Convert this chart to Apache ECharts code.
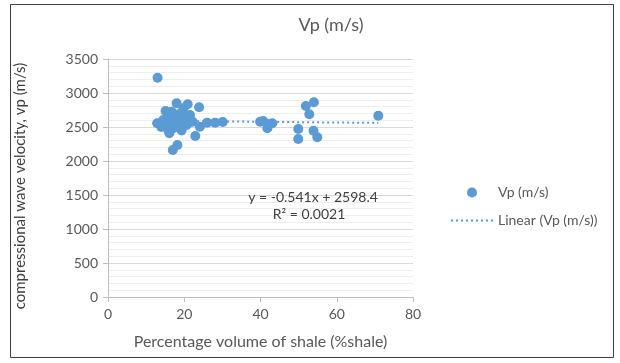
<!DOCTYPE html>
<html>
<head>
<meta charset="utf-8">
<script src="https://cdn.jsdelivr.net/npm/echarts@6/dist/echarts.min.js"></script>
<style>html,body{margin:0;padding:0;background:#fff;}#c{width:620px;height:363px;}</style>
</head>
<body>
<div id="c"></div>
<script>
var shalePct = [13.0,17.0,18.2,22.9,23.9,22.2,24.1,26.0,28.1,30.1,12.9,
  18.0,20.9,15.1,16.7,19.8,21.5,14.5,16.3,18.0,19.8,18.9,17.1,15.8,15.0,16.1,20.6,17.6,19.0,16.0,17.5,18.5,20.0,14.0,21.0,19.3,
  39.9,40.7,41.8,42.0,43.1,49.9,49.9,51.9,54.0,52.8,53.9,54.9,70.9];
var vpValues = [3225,2162,2235,2368,2790,2578,2504,2564,2564,2574,2555,
  2848,2834,2735,2725,2775,2676,2603,2603,2628,2603,2505,2481,2456,2530,2407,2530,2680,2700,2660,2560,2580,2650,2500,2560,2450,
  2578,2588,2481,2544,2554,2471,2324,2809,2863,2687,2446,2348,2666];
var trendSlope = [-0.541];
var trendIntercept = [2598.4];
var xTicks = [0,20,40,60,80];
var yTicks = [0,500,1000,1500,2000,2500,3000,3500];
var seriesName = 'Vp (m/s)';
var trendName = 'Linear (Vp (m/s))';
var eqLines = ['y = -0.541x + 2598.4', 'R\u00b2 = 0.0021'];

var pts = shalePct.map(function(x,i){return [x, vpValues[i]];});
var xmin = Math.min.apply(null, shalePct), xmax = Math.max.apply(null, shalePct);
var trend = [[xmin, trendSlope[0]*xmin + trendIntercept[0]], [xmax, trendSlope[0]*xmax + trendIntercept[0]]];

var FONT = 'Lato';
var blue = '#5b9bd5';
var chart = echarts.init(document.getElementById('c'), null, {renderer:'canvas'});
chart.setOption({
  animation:false,
  backgroundColor:'#fff',
  textStyle:{fontFamily:FONT},
  title:{text:'Vp (m/s)', left:326, top:11, textAlign:'center',
    textStyle:{fontFamily:FONT, fontSize:18, fontWeight:'normal', color:'#595959'}},
  grid:{left:108, right:207, top:59, bottom:66},
  xAxis:{type:'value', min:xTicks[0], max:xTicks[xTicks.length-1], interval:20,
    name:'Percentage volume of shale (%shale)', nameLocation:'middle', nameGap:37,
    nameTextStyle:{fontFamily:FONT, fontSize:16, color:'#595959'},
    axisLine:{lineStyle:{color:'#bfbfbf'}},
    axisTick:{show:true, length:5, lineStyle:{color:'#bfbfbf'}},
    axisLabel:{fontFamily:FONT, fontSize:14, color:'#595959', margin:10},
    splitLine:{show:false}},
  yAxis:{type:'value', min:yTicks[0], max:yTicks[yTicks.length-1], interval:500,
    name:'compressional wave velocity, vp (m/s)', nameLocation:'middle', nameGap:80,
    nameTextStyle:{fontFamily:FONT, fontSize:15, color:'#404040', padding:[0,16,0,0]},
    axisLine:{show:true, lineStyle:{color:'#bfbfbf'}},
    axisTick:{show:true, length:5, lineStyle:{color:'#bfbfbf'}},
    axisLabel:{fontFamily:FONT, fontSize:14, color:'#595959', margin:10, formatter:function(v){return String(v);}},
    splitLine:{show:true, lineStyle:{color:'#d9d9d9'}},
    minorTick:{show:false, splitNumber:5},
    minorSplitLine:{show:true, lineStyle:{color:'#eeeeee'}}},
  legend:{orient:'vertical', left:450, top:184, padding:0, itemGap:11,
    itemWidth:42, itemHeight:10,
    data:[{name:seriesName, icon:'circle'},
          {name:trendName, itemStyle:{color:'rgba(0,0,0,0)', borderWidth:0, opacity:0}}],
    textStyle:{fontFamily:FONT, fontSize:14, color:'#595959', lineHeight:17}},
  series:[
    {name:trendName, type:'line', data:trend, symbol:'none', z:1,
     lineStyle:{color:blue, width:2, type:[2,3]}, itemStyle:{color:blue}},
    {name:seriesName, type:'scatter', data:pts, symbolSize:10, z:2,
     itemStyle:{color:blue, opacity:1}}
  ],
  graphic:[
    {type:'rect', z:100, shape:{x:10.5, y:4.5, width:603, height:353}, style:{fill:null, stroke:'#404040', lineWidth:1}, silent:true},
    {type:'text', z:100, x:313, y:197, style:{text:eqLines[0], fontFamily:FONT, fontSize:14, fill:'#404040', textAlign:'center', textVerticalAlign:'middle'}},
    {type:'text', z:100, x:309, y:214, style:{text:eqLines[1], fontFamily:FONT, fontSize:14, fill:'#404040', textAlign:'center', textVerticalAlign:'middle'}}
  ]
});
</script>
</body>
</html>
